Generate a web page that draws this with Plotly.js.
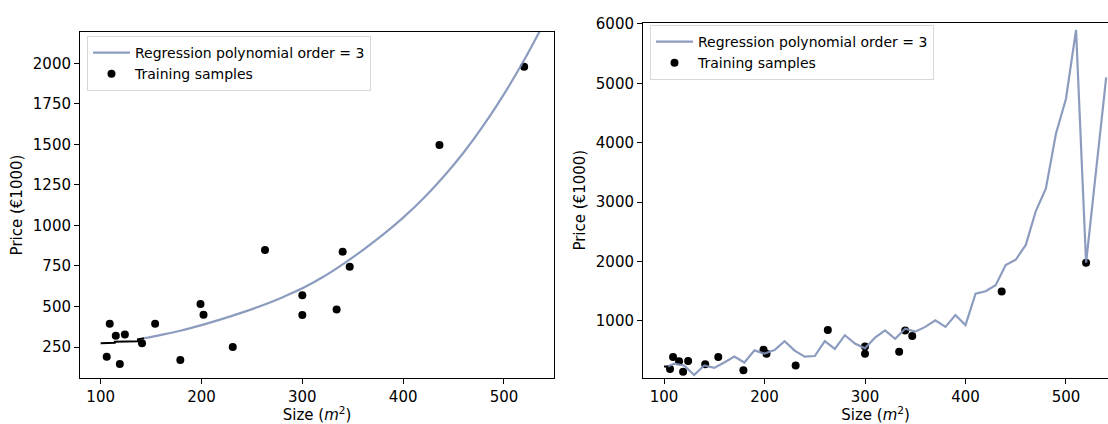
<!DOCTYPE html>
<html>
<head>
<meta charset="utf-8">
<script src="https://cdn.plot.ly/plotly-3.0.1.min.js"></script>
<style>html,body{margin:0;padding:0;background:#fff;}#chart{width:1108px;height:424px;}</style>
</head>
<body>
<div id="chart"></div>
<script>
// Training samples (shared by both panels)
const sizes  = [106, 109, 115, 119, 124, 141, 154, 179, 199, 202, 231, 263, 300, 300, 334, 340, 347, 436, 520];
const prices = [190, 394, 320, 145, 328, 273, 394, 170, 515, 449, 250, 848, 569, 447, 482, 838, 745, 1496, 1979];

// Left panel: regression curve
const leftBlackX = [100, 114, 114, 137, 137, 143];
const leftBlackY = [273, 276, 283, 285, 298, 304];
const leftCurveX = [143, 160, 180, 200, 220, 240, 260, 280, 300, 320, 340, 360, 380, 400, 420, 440, 460, 480, 500, 520, 540];
const leftCurveY = [304, 325, 352, 385, 422, 462, 506, 556, 612, 680, 760, 848, 943, 1048, 1166, 1300, 1450, 1620, 1810, 2020, 2252];

// Right panel: regression line
const rightBlackX = [100, 104];
const rightBlackY = [235, 235];
const rightCurveX = [104, 110, 120, 130, 140, 150, 160, 170, 180, 190, 200, 210, 220, 230, 240, 250, 260, 270, 280, 290, 300, 310, 320, 330, 340, 350, 360, 370, 380, 390, 400, 410, 420, 430, 440, 450, 460, 470, 480, 490, 500, 510, 520, 530, 540];
const rightCurveY = [235, 280, 250, 90, 250, 210, 300, 400, 300, 505, 450, 510, 660, 500, 400, 410, 660, 530, 760, 620, 540, 720, 840, 700, 870, 820, 900, 1010, 900, 1100, 930, 1460, 1500, 1600, 1940, 2030, 2280, 2850, 3230, 4150, 4740, 5900, 1980, 3540, 5100];

// Tick labels
const leftXTicks = [100, 200, 300, 400, 500];
const leftYTicks = [250, 500, 750, 1000, 1250, 1500, 1750, 2000];
const rightXTicks = [100, 200, 300, 400, 500];
const rightYTicks = [1000, 2000, 3000, 4000, 5000, 6000];

const lineColor = '#7f91b7';
const font = {family: 'DejaVu Sans', size: 15, color: '#000'};

const traces = [
  {x: sizes, y: prices, xaxis: 'x', yaxis: 'y', mode: 'markers', type: 'scatter',
   name: 'Training samples', legend: 'legend', legendrank: 2,
   marker: {color: '#000', size: 8}},
  {x: leftBlackX, y: leftBlackY, xaxis: 'x', yaxis: 'y', mode: 'lines', type: 'scatter',
   showlegend: false, line: {color: '#000', width: 2}},
  {x: leftCurveX, y: leftCurveY, xaxis: 'x', yaxis: 'y', mode: 'lines', type: 'scatter',
   name: 'Regression polynomial order = 3', legend: 'legend', legendrank: 1,
   line: {color: lineColor, width: 2.2, shape: 'spline'}, opacity: 0.9},

  {x: sizes, y: prices, xaxis: 'x2', yaxis: 'y2', mode: 'markers', type: 'scatter',
   name: 'Training samples', legend: 'legend2', legendrank: 2,
   marker: {color: '#000', size: 8}},
  {x: rightBlackX, y: rightBlackY, xaxis: 'x2', yaxis: 'y2', mode: 'lines', type: 'scatter',
   showlegend: false, line: {color: '#000', width: 2}},
  {x: rightCurveX, y: rightCurveY, xaxis: 'x2', yaxis: 'y2', mode: 'lines', type: 'scatter',
   name: 'Regression polynomial order = 3', legend: 'legend2', legendrank: 1,
   line: {color: lineColor, width: 2.2}, opacity: 0.9}
];

const axisCommon = {
  showgrid: false, zeroline: false, showline: true, linecolor: '#000', linewidth: 1,
  ticks: 'outside', ticklen: 5, tickwidth: 1, tickcolor: '#000',
  tickfont: font, automargin: false
};

const legendCommon = {
  font: {family: 'DejaVu Sans', size: 14, color: '#000'},
  bgcolor: 'rgba(255,255,255,0.85)', bordercolor: '#d8d8d8', borderwidth: 1,
  xanchor: 'left', yanchor: 'top', tracegroupgap: 0, itemwidth: 37
};

const layout = {
  width: 1108, height: 424,
  margin: {l: 0, r: 0, t: 0, b: 0},
  paper_bgcolor: '#fff', plot_bgcolor: '#fff',
  font: font,
  showlegend: true,
  xaxis: Object.assign({}, axisCommon, {
    domain: [80/1108, 554/1108], range: [79.5, 549.6], mirror: true,
    tickvals: leftXTicks, anchor: 'y',
    title: {text: 'Size (<i>m</i><sup>2</sup>)', font: font, standoff: 6}
  }),
  yaxis: Object.assign({}, axisCommon, {
    domain: [1 - 378/424, 1 - 32/424], range: [59, 2193], mirror: true,
    tickvals: leftYTicks, anchor: 'x',
    title: {text: 'Price (€1000)', font: font, standoff: 6}
  }),
  xaxis2: Object.assign({}, axisCommon, {
    domain: [643/1108, 1], range: [79.1, 541.8], mirror: true,
    tickvals: rightXTicks, anchor: 'y2',
    title: {text: 'Size (<i>m</i><sup>2</sup>)', font: font, standoff: 6}
  }),
  yaxis2: Object.assign({}, axisCommon, {
    domain: [1 - 377.7/424, 1 - 22.7/424], range: [45, 6020],
    tickvals: rightYTicks, anchor: 'x2',
    title: {text: 'Price (€1000)', font: font, standoff: 6}
  }),
  legend: Object.assign({}, legendCommon, {x: 87/1108, y: 1 - 36/424}),
  legend2: Object.assign({}, legendCommon, {x: 650/1108, y: 1 - 25/424})
};

Plotly.newPlot('chart', traces, layout, {displayModeBar: false, staticPlot: true});
</script>
</body>
</html>
